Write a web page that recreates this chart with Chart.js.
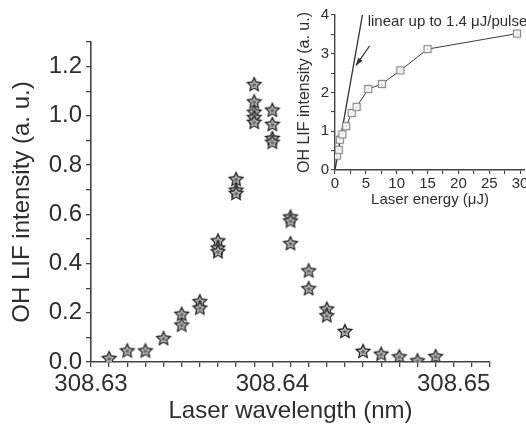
<!DOCTYPE html>
<html>
<head>
<meta charset="utf-8">
<script src="https://cdn.jsdelivr.net/npm/chart.js@4.4.1/dist/chart.umd.min.js"></script>
<style>
html,body{margin:0;padding:0;background:#fff;overflow:hidden}
#wrap{position:relative;width:526px;height:429px;overflow:hidden}
#main{position:absolute;left:0;top:0}
#inset{position:absolute;left:280px;top:0}
</style>
</head>
<body>
<div id="wrap">
<canvas id="main" width="526" height="429"></canvas>
<canvas id="inset" width="260" height="212"></canvas>
</div>
<script>

/* main spectrum: OH LIF vs laser wavelength */
const wavelength=[308.631,308.632,308.633,308.634,308.635,308.635,308.636,308.636,
308.637,308.637,308.637,308.638,308.638,308.638,
308.639,308.639,308.639,308.639,308.639,
308.640,308.640,308.640,308.640,
308.641,308.641,308.641,308.642,308.642,308.643,308.643,
308.644,308.645,308.646,308.647,308.648,308.649]
const lifIntensity=[0.016,0.047,0.047,0.097,0.196,0.152,0.247,0.221,
0.494,0.465,0.45,0.744,0.70,0.687,
1.129,1.059,1.017,0.995,0.976,
1.025,0.967,0.91,0.895,
0.591,0.575,0.483,0.372,0.30,0.217,0.19,
0.126,0.045,0.034,0.023,0.007,0.024]
const xLabelsMain=["308.63","308.64","308.65"]
const yLabelsMain=["0.0","0.2","0.4","0.6","0.8","1.0","1.2"]

/* inset: saturation curve */
const laserEnergy=[0.3,0.6,0.8,1.2,1.8,2.7,3.5,5.4,7.6,10.6,15.0,29.5]
const lifSignal=[0.37,0.52,0.78,0.92,1.13,1.47,1.63,2.09,2.22,2.57,3.12,3.52]
const linearX=[0,4.6]
const linearY=[0,4.14]
const arrowX=[5.6,3.4]
const arrowY=[3.2,2.7]
const xLabelsInset=["0","5","10","15","20","25","30"]
const yLabelsInset=["0","1","2","3","4"]
const noteText="linear up to 1.4 μJ/pulse"
const noteAt=[5.3,3.82]

const textColor="#2e2e2e"
const axisColor="#444"
const font="'Liberation Sans', Arial, sans-serif"

function starPath(c,cx,cy,ro,ri){
c.beginPath()
for(let i=0;i<10;i++){
const r=i%2?ri:ro
const a=-Math.PI/2+i*Math.PI/5
c.lineTo(cx+r*Math.cos(a),cy+r*Math.sin(a))
}
c.closePath()
}

const star=document.createElement("canvas")
star.width=18;star.height=18
const sc=star.getContext("2d")
starPath(sc,9,9.6,8.7,4.2);sc.fillStyle="#262626";sc.fill()
starPath(sc,9,9.8,5.5,2.7);sc.fillStyle="#bdbdbd";sc.fill()
starPath(sc,9,9.8,2.6,1.2);sc.fillStyle="#5e5e5e";sc.fill()

const square=document.createElement("canvas")
square.width=10;square.height=10
const qc=square.getContext("2d")
qc.fillStyle="#fff";qc.fillRect(1,1,8,8)
qc.strokeStyle="#8c8c8c";qc.lineWidth=1.3;qc.strokeRect(1.5,1.5,7,7)
qc.fillStyle="#777";qc.fillRect(4.5,4.5,1,1)

function pickLabel(list,digits){
return v=>{
const s=v.toFixed(digits)
return Math.abs(v-Number(s))<1e-7&&list.includes(s)?s:""
}
}

const pts=(xs,ys)=>xs.map((x,i)=>({x:x,y:ys[i]}))

new Chart(document.getElementById("main"),{
type:"scatter",
data:{
datasets:[{
data:pts(wavelength,lifIntensity),
pointStyle:star,
pointRadius:8,
showLine:false
}]
},
options:{
responsive:false,
animation:false,
layout:{padding:{left:0,right:36,top:42,bottom:0}},
plugins:{legend:{display:false},tooltip:{enabled:false}},
scales:{
x:{
type:"linear",min:308.63,max:308.652,
border:{color:axisColor,width:1.6},
grid:{drawOnChartArea:false,tickLength:5,color:axisColor,lineWidth:1.3},
ticks:{stepSize:0.001,autoSkip:false,maxRotation:0,minRotation:0,padding:3,color:textColor,
font:{family:font,size:24},callback:pickLabel(xLabelsMain,2)},
title:{display:true,text:"Laser wavelength (nm)",color:textColor,font:{family:font,size:24},padding:{top:0,bottom:3}},
afterFit:s=>{s.height=67}
},
y:{
min:0,max:1.3,
border:{color:axisColor,width:1.6},
grid:{drawOnChartArea:false,tickLength:5,color:axisColor,lineWidth:1.3},
ticks:{stepSize:0.1,autoSkip:false,padding:4,color:textColor,
font:{family:font,size:24},callback:pickLabel(yLabelsMain,1)},
title:{display:true,text:"OH LIF intensity (a. u.)",color:textColor,font:{family:font,size:24},padding:{top:8,bottom:0}},
afterFit:s=>{s.width=91}
}
}
}
})

const insetNotes={
id:"insetNotes",
afterDatasetsDraw(chart){
const c=chart.ctx
const xs=chart.scales.x,ys=chart.scales.y
const x1=xs.getPixelForValue(arrowX[0]),y1=ys.getPixelForValue(arrowY[0])
const x2=xs.getPixelForValue(arrowX[1]),y2=ys.getPixelForValue(arrowY[1])
const a=Math.atan2(y2-y1,x2-x1)
c.save()
c.fillStyle="#333"
c.beginPath()
c.moveTo(x2,y2)
c.lineTo(x2-8*Math.cos(a-0.35),y2-8*Math.sin(a-0.35))
c.lineTo(x2-8*Math.cos(a+0.35),y2-8*Math.sin(a+0.35))
c.closePath()
c.fill()
c.font="15px "+font
c.fillStyle=textColor
c.textAlign="left"
c.textBaseline="middle"
c.fillText(noteText,xs.getPixelForValue(noteAt[0]),ys.getPixelForValue(noteAt[1]))
c.restore()
}
}

new Chart(document.getElementById("inset"),{
type:"scatter",
data:{
datasets:[
{
data:pts(laserEnergy,lifSignal),
showLine:true,
borderColor:"#3a3a3a",
borderWidth:1,
pointStyle:square,
pointRadius:5
},
{
data:pts(linearX,linearY),
showLine:true,
borderColor:"#333",
borderWidth:1.3,
pointRadius:0
},
{
data:pts(arrowX,arrowY),
showLine:true,
borderColor:"#333",
borderWidth:1.3,
pointRadius:0,
clip:false
}
]
},
options:{
responsive:false,
animation:false,
layout:{padding:{left:0,right:15,top:15,bottom:0}},
plugins:{legend:{display:false},tooltip:{enabled:false}},
scales:{
x:{
type:"linear",min:0,max:30.8,
border:{color:axisColor,width:1.4},
grid:{drawOnChartArea:false,tickLength:4,color:axisColor,lineWidth:1.1},
ticks:{stepSize:2.5,includeBounds:false,autoSkip:false,maxRotation:0,minRotation:0,padding:1,color:textColor,
font:{family:font,size:15},callback:pickLabel(xLabelsInset,0)},
title:{display:true,text:"Laser energy (μJ)",color:textColor,font:{family:font,size:15},padding:{top:0,bottom:3}},
afterFit:s=>{s.height=42}
},
y:{
min:0,max:4,
border:{color:axisColor,width:1.4},
grid:{drawOnChartArea:false,tickLength:4,color:axisColor,lineWidth:1.1},
ticks:{stepSize:0.5,autoSkip:false,padding:2,color:textColor,
font:{family:font,size:15},callback:pickLabel(yLabelsInset,0)},
title:{display:true,text:"OH LIF intensity (a. u.)",color:textColor,font:{family:font,size:16},padding:{top:15,bottom:0}},
afterFit:s=>{s.width=55}
}
}
},
plugins:[insetNotes]
})

</script>
</body>
</html>
